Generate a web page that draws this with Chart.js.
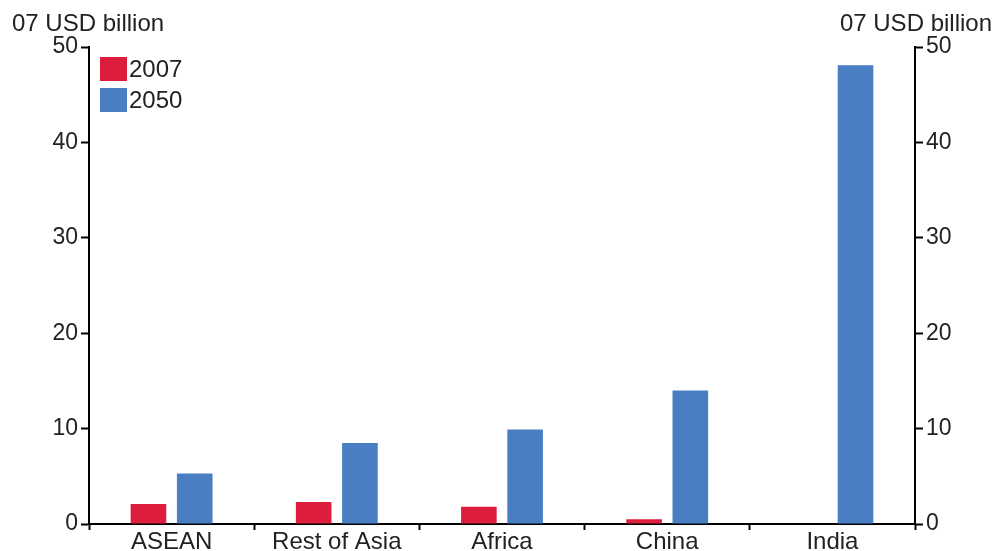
<!DOCTYPE html>
<html>
<head>
<meta charset="utf-8">
<script src="https://cdn.jsdelivr.net/npm/chart.js@4.4.0/dist/chart.umd.min.js"></script>
<style>
  html, body { margin: 0; padding: 0; background: #fff; }
  #wrap { width: 994px; height: 551px; position: relative; }
</style>
</head>
<body>
<div id="wrap"><canvas id="canvas"></canvas></div>
<script>
const categories = ["ASEAN", "Rest of Asia", "Africa", "China", "India"];
const values2007 = [2.1, 2.3, 1.8, 0.5, 0];
const values2050 = [5.3, 8.5, 9.9, 14.0, 48.1];
const seriesNames = ["2007", "2050"];
const yTicks = [0, 10, 20, 30, 40, 50];
const axisTitle = "07 USD billion";

const FONT = "'Liberation Sans', Arial, sans-serif";
const TXT = "#222";

// legend + axis titles drawn by hand, the built-in legend can't sit like this
const extras = {
  id: "extras",
  afterDraw(chart) {
    const ctx = chart.ctx;
    const ca = chart.chartArea;
    ctx.save();
    ctx.font = "24px " + FONT;
    ctx.fillStyle = TXT;
    ctx.textBaseline = "middle";
    ctx.textAlign = "left";
    ctx.fillText(axisTitle, 12, 24);
    ctx.textAlign = "right";
    ctx.fillText(axisTitle, 992, 24);

    ctx.textAlign = "left";
    chart.data.datasets.forEach((ds, i) => {
      const y = 57 + i * 31;
      ctx.fillStyle = ds.backgroundColor;
      ctx.fillRect(ca.left + 11, y, 27, 24);
      ctx.fillStyle = TXT;
      ctx.fillText(ds.label, ca.left + 40, y + 13);
    });
    ctx.restore();
  }
};

const yAxis = (pos, w) => ({
  type: "linear",
  position: pos,
  min: 0,
  max: 50,
  afterFit: (s) => { s.width = w; },
  afterBuildTicks: (s) => { s.ticks = yTicks.map((v) => ({ value: v })); },
  border: { display: true, color: "#000", width: 2 },
  grid: { drawOnChartArea: false, tickLength: 8, tickWidth: 2, tickColor: "#000" },
  ticks: { color: TXT, font: { family: FONT, size: 23 }, padding: 3 }
});

new Chart(document.getElementById("canvas").getContext("2d"), {
  type: "bar",
  data: {
    labels: categories,
    datasets: [
      { label: seriesNames[0], data: values2007, backgroundColor: "#DC1E3C", yAxisID: "y" },
      { label: seriesNames[1], data: values2050, backgroundColor: "#4A7EC3", yAxisID: "y" }
    ]
  },
  options: {
    responsive: true,
    maintainAspectRatio: false,
    animation: false,
    categoryPercentage: 0.56,
    barPercentage: 0.77,
    layout: { padding: { top: 47, left: 0, right: 0, bottom: 0 } },
    plugins: { legend: { display: false }, tooltip: { enabled: false } },
    scales: {
      x: {
        afterFit: (s) => { s.height = 27; },
        border: { display: true, color: "#000", width: 2 },
        grid: { offset: true, drawOnChartArea: false, tickLength: 6, tickWidth: 2, tickColor: "#000" },
        ticks: { color: TXT, font: { family: FONT, size: 24 }, padding: -2, maxRotation: 0 }
      },
      y: yAxis("left", 89),
      y2: yAxis("right", 79)
    }
  },
  plugins: [extras]
});
</script>
</body>
</html>
